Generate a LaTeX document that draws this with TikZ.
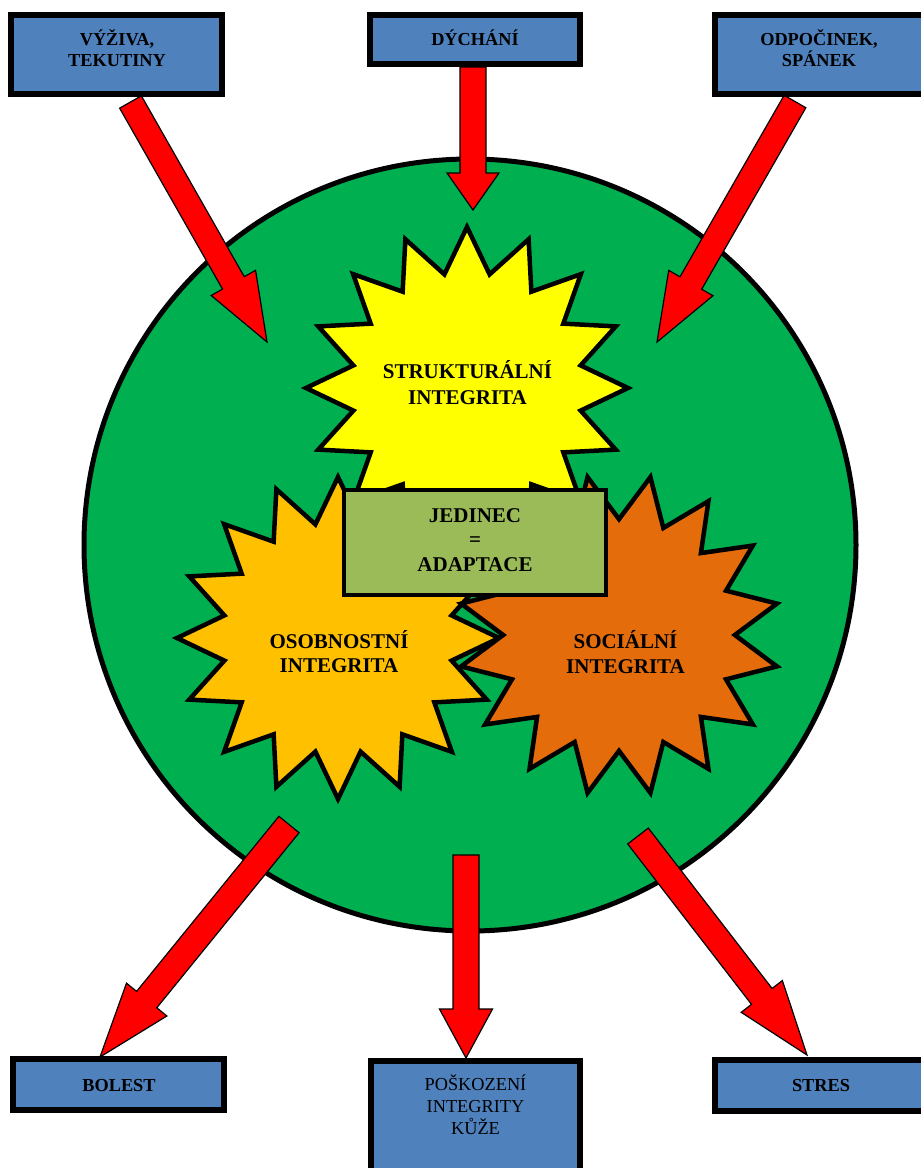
\documentclass[tikz,border=0pt]{standalone}
\usepackage{fontspec}
\setmainfont{Liberation Serif}
\usetikzlibrary{calc,shapes.geometric}
\definecolor{boxblue}{HTML}{4F81BD}
\definecolor{bodygreen}{HTML}{00B050}
\definecolor{staryellow}{HTML}{FFFF00}
\definecolor{starorange}{HTML}{FFC000}
\definecolor{stardark}{HTML}{E46C0A}
\definecolor{olive}{HTML}{9BBB59}
\definecolor{arrowred}{HTML}{FF0000}
\tikzset{
  bluebox/.style={draw=black, fill=boxblue, line width=6pt, rectangle, inner sep=0pt},
  centerbox/.style={draw=black, fill=olive, line width=4.5pt, rectangle, inner sep=0pt},
  burst/.style={star, star points=16, star point ratio=1.39, minimum size=322pt, draw=black, line width=4.5pt, inner sep=0pt},
  redarrow/.style={draw=black, fill=arrowred, line width=1.2pt, line join=miter},
  btext/.style={font=\bfseries\fontsize{18.3}{21}\selectfont, align=center, anchor=base, inner sep=0pt},
  rtext/.style={font=\fontsize{18.3}{21.7}\selectfont, align=center, anchor=base, inner sep=0pt},
  ctext/.style={font=\bfseries\fontsize{21}{24.5}\selectfont, align=center, anchor=base, inner sep=0pt},
}
\newcommand\blockarrow[5]{%
  \coordinate (ba-h) at ($(#2)!#5!(#1)$);
  \filldraw[redarrow]
    ($(#1)!#3!90:(#2)$) -- ($(ba-h)!#3!90:(#2)$) -- ($(ba-h)!#4!90:(#2)$) -- (#2)
    -- ($(ba-h)!#4!-90:(#2)$) -- ($(ba-h)!#3!-90:(#2)$) -- ($(#1)!#3!-90:(#2)$) -- cycle;
}
\begin{document}
\begin{tikzpicture}[x=1pt,y=-1pt]
\useasboundingbox (0,0) rectangle (921,1168);
% body circle
\node[circle, draw=black, fill=bodygreen, line width=5pt, minimum size=772pt, inner sep=0pt] (body) at (470,545) {};
% arrow end points
\coordinate (t1) at (130.5,102);  \coordinate (h1) at (267,342);
\coordinate (t2) at (473,67);     \coordinate (h2) at (473,210);
\coordinate (t3) at (795,101.5);  \coordinate (h3) at (657,342);
\coordinate (t4) at (289,824.5);  \coordinate (h4) at (100,1057);
\coordinate (t5) at (466,855);    \coordinate (h5) at (466,1058);
\coordinate (t6) at (638,836);    \coordinate (h6) at (807,1055);
\blockarrow{t1}{h1}{12.5pt}{25.5pt}{68pt}
\blockarrow{t2}{h2}{13pt}{26pt}{37pt}
\blockarrow{t3}{h3}{12.5pt}{25.5pt}{68pt}
\blockarrow{t4}{h4}{13pt}{26pt}{74pt}
\blockarrow{t5}{h5}{13pt}{26.5pt}{49pt}
\blockarrow{t6}{h6}{13pt}{26pt}{74pt}
% starbursts
\node[burst, fill=staryellow] (struct) at (467,388) {};
\node[burst, fill=starorange] (osob) at (338,638) {};
\node[burst, fill=stardark, shape border rotate=11.25] (soc) at (619,635) {};
\node[ctext, font=\bfseries\fontsize{21}{26}\selectfont] at (467.5,404) {STRUKTURÁLNÍ\\INTEGRITA};
\node[ctext, font=\bfseries\fontsize{21}{24}\selectfont] at (339,672.3) {OSOBNOSTNÍ\\INTEGRITA};
\node[ctext, font=\bfseries\fontsize{21}{25}\selectfont] at (625.5,673.3) {SOCIÁLNÍ\\INTEGRITA};
% centre box
\node[centerbox, minimum width=262pt, minimum height=105pt] (jedinec) at (475,542.5) {};
\node[ctext] at (475,571) {JEDINEC\\=\\ADAPTACE};
% outer boxes
\node[bluebox, minimum width=211pt, minimum height=79pt] (vyziva) at (116.5,54.5) {};
\node[bluebox, minimum width=210pt, minimum height=49pt] (dychani) at (475,39.5) {};
\node[bluebox, minimum width=211pt, minimum height=79pt] (odpocinek) at (820.5,54.5) {};
\node[bluebox, minimum width=211pt, minimum height=51pt] (bolest) at (118.5,1084.5) {};
\node[bluebox, minimum width=209pt, minimum height=111pt] (poskozeni) at (475.5,1116.5) {};
\node[bluebox, minimum width=211pt, minimum height=51pt] (stres) at (820.5,1085.5) {};
\node[btext] at (117,66) {VÝŽIVA,\\TEKUTINY};
\node[btext] at (475,45) {DÝCHÁNÍ};
\node[btext] at (819,66) {ODPOČINEK,\\SPÁNEK};
\node[btext] at (119,1091) {BOLEST};
\node[rtext] at (475.5,1134) {POŠKOZENÍ\\INTEGRITY\\KŮŽE};
\node[btext] at (821,1091) {STRES};
\end{tikzpicture}
\end{document}
